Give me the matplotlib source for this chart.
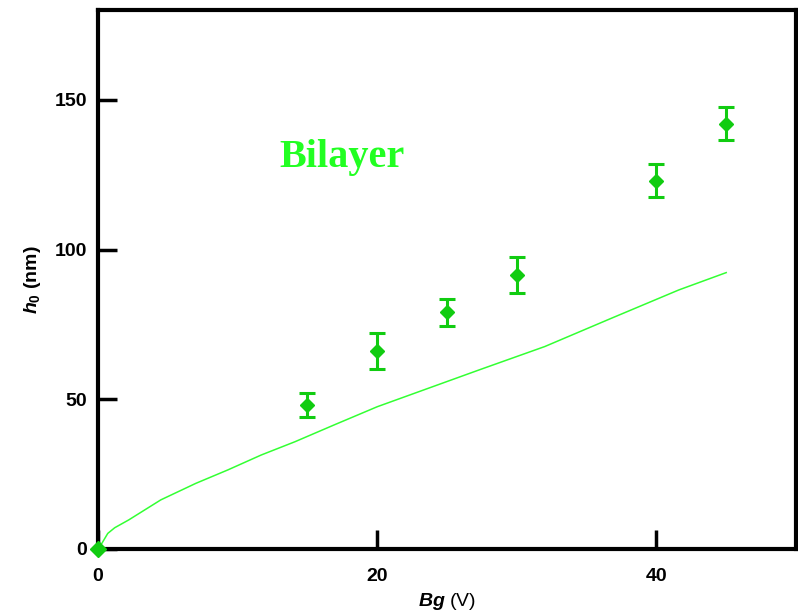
import matplotlib.pyplot as plt

plt.rcParams['mathtext.fontset'] = 'custom'
plt.rcParams['mathtext.it'] = 'Liberation Sans:italic:bold'
plt.rcParams['mathtext.rm'] = 'Liberation Sans:bold'
plt.rcParams['mathtext.bf'] = 'Liberation Sans:bold'

# measured points (Bg in V, h0 in nm) with error bars
bg = [0, 15, 20, 25, 30, 40, 45]
h0 = [0, 48, 66, 79, 91.5, 123, 142]
h0_err = [0, 4, 6, 4.6, 6, 5.5, 5.5]

# model curve
curve_bg = [0, 0.14, 0.7, 1.2, 2.2, 4.5, 7, 9.3, 11.7, 14.1, 16.9, 20, 27.3, 32, 36.8, 41.6, 45]
curve_h0 = [0, 0.8, 5.2, 7.1, 9.7, 16.4, 21.9, 26.4, 31.4, 35.8, 41.4, 47.5, 59.8, 67.6, 77.1, 86.5, 92.3]

xticks = [0, 20, 40]
yticks = [0, 50, 100, 150]

fig = plt.figure(figsize=(7.98, 6.14), dpi=100)
ax = fig.add_axes([0.1228, 0.1059, 0.8747, 0.8778])

ax.plot(curve_bg, curve_h0, color='#33ff33', linewidth=1.1, clip_on=False)
ax.errorbar(bg[1:], h0[1:], yerr=h0_err[1:], fmt='D', color='#11cc11',
            markersize=7, elinewidth=2.2, capsize=6, capthick=2.2)
ax.plot(bg[0], h0[0], 'D', color='#11cc11', markersize=8, clip_on=False, zorder=5)

ax.set_xlim(0, 50)
ax.set_ylim(0, 180)
ax.set_xticks(xticks)
ax.set_yticks(yticks)
ax.tick_params(direction='in', length=14, width=2.5, labelsize=14)
ax.tick_params(axis='x', pad=14)
ax.tick_params(axis='y', pad=8)
for lab in ax.get_xticklabels() + ax.get_yticklabels():
    lab.set_fontweight('bold')
    lab.set_family('Liberation Sans')
for s in ax.spines.values():
    s.set_linewidth(3)

ax.set_xlabel(r'$Bg$ (V)', fontsize=14, family='Liberation Sans', labelpad=4)
ax.set_ylabel(r'$h_0$ (nm)', fontsize=14, family='Liberation Sans',
              fontweight='bold', labelpad=8)

ax.text(0.26, 0.708, 'Bilayer', transform=ax.transAxes, color='#22ff22',
        fontsize=29, fontweight='bold', family='Liberation Serif')

plt.savefig('out.png')
